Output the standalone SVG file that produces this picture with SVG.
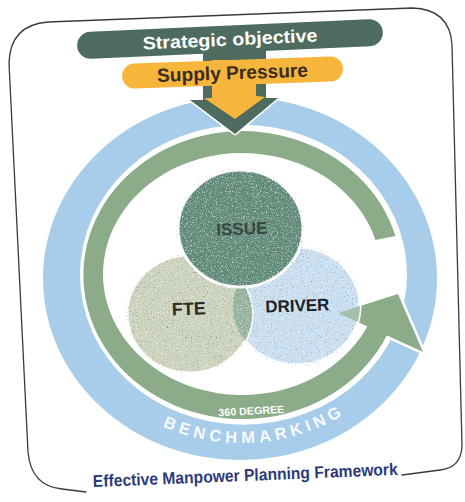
<svg xmlns="http://www.w3.org/2000/svg" width="465" height="502" viewBox="0 0 465 502">
  <defs>
    <style>
      .frame { fill: none; stroke: #3a3a3a; stroke-width: 1.3; stroke-linecap: round; }
      .blue-ring { fill: #a8cdeb; }
      .green-ring { fill: #8cac89; }
      .cut { stroke: #ffffff; stroke-linejoin: round; }
      .label { font-family: "Liberation Sans", Arial, sans-serif; font-weight: bold; text-anchor: middle; }
      .circle-label { font-size: 17px; }
      .printed { filter: url(#grain); }
    </style>
    <!-- printed-paper speckle for the circle fills -->
    <filter id="grain" x="-5%" y="-5%" width="110%" height="110%" color-interpolation-filters="sRGB">
      <feTurbulence type="fractalNoise" baseFrequency="0.8" numOctaves="2" seed="7" result="n"/>
      <feColorMatrix in="n" type="matrix" values="0 0 0 0 1  0 0 0 0 1  0 0 0 0 1  2.4 0 0 0 -1.25" result="light"/>
      <feColorMatrix in="n" type="matrix" values="0 0 0 0 0.25  0 0 0 0 0.33  0 0 0 0 0.27  0 -2.0 0 0 0.75" result="dark"/>
      <feComposite in="light" in2="SourceAlpha" operator="in" result="lightIn"/>
      <feComposite in="dark" in2="SourceAlpha" operator="in" result="darkIn"/>
      <feMerge>
        <feMergeNode in="SourceGraphic"/>
        <feMergeNode in="lightIn"/>
        <feMergeNode in="darkIn"/>
      </feMerge>
    </filter>
    <clipPath id="fte-clip">
      <ellipse cx="189.5" cy="314" rx="62.5" ry="59"/>
    </clipPath>
    <clipPath id="driver-clip">
      <ellipse cx="296.5" cy="306" rx="63.5" ry="59"/>
    </clipPath>
    <path id="bench-arc" d="M 120,400.3 A 182 166.5 0 0 0 384,380.5"/>
  </defs>

  <rect width="465" height="502" fill="#ffffff"/>

  <!-- page frame, open at the bottom for the caption -->
  <g id="frame">
    <path class="frame" d="M 402,475 L 440,470 Q 461,468 462,446 L 452,45 Q 450,9 412,8 L 48,22 Q 10,25 9,63 L 28,452 Q 31,486 62,489 L 86,492"/>
    <text class="label" x="0" y="0" font-size="17" fill="#2c3b7a" textLength="305" lengthAdjust="spacingAndGlyphs" transform="translate(245.5,481) rotate(-2.3)">Effective Manpower Planning Framework</text>
  </g>

  <!-- outer benchmarking ring -->
  <g id="benchmarking">
    <path class="blue-ring" fill-rule="evenodd" d="M 43,278.5 a 197,181.5 0 1,0 394,0 a 197,181.5 0 1,0 -394,0 Z M 80,274.75 a 163.5,150 0 1,0 327,0 a 163.5,150 0 1,0 -327,0 Z"/>
    <text class="label" font-size="16.5" fill="#ffffff" fill-opacity="0.92" letter-spacing="4.5">
      <textPath href="#bench-arc" startOffset="50%">BENCHMARKING</textPath>
    </text>
  </g>

  <!-- 360 degree circular arrow -->
  <g id="cycle-arrow">
    <polygon class="cut" points="338,313 398,294 423,352" fill="#ffffff" stroke-width="5"/>
    <path class="green-ring" d="M 390.7,327 A 159 144 0 1 1 395.4,236 L 375.4,240 A 139 121 0 1 0 373.6,313 Z"/>
    <polygon class="green-ring" points="338,313 398,294 423,352"/>
    <text class="label" x="0" y="0" font-size="10.5" fill="#ffffff" textLength="66" lengthAdjust="spacingAndGlyphs" transform="translate(251.5,414.5) rotate(-3)">360 DEGREE</text>
  </g>

  <!-- the three overlapping circles -->
  <g id="driver">
    <ellipse class="cut printed" cx="296.5" cy="306" rx="63.5" ry="59" fill="#c8def1" stroke-width="3"/>
    <polygon points="338,313 398,294 423,352" fill="#a3bfae" clip-path="url(#driver-clip)"/>
    <text class="label circle-label" x="0" y="0" fill="#1e1f28" transform="translate(297.5,311.5) rotate(-2)">DRIVER</text>
  </g>
  <g id="fte">
    <ellipse class="cut printed" cx="189.5" cy="314" rx="62.5" ry="59" fill="#cbd2bb" stroke-width="3"/>
    <g clip-path="url(#fte-clip)">
      <ellipse class="printed" cx="296.5" cy="306" rx="63.5" ry="59" fill="#93b39d"/>
    </g>
    <text class="label" x="0" y="0" font-size="18" fill="#2b2c2a" transform="translate(189,315) rotate(-2)">FTE</text>
  </g>
  <g id="issue">
    <ellipse class="cut printed" cx="240.5" cy="228.5" rx="62.5" ry="58.5" fill="#618b79" stroke-width="3"/>
    <text class="label circle-label" x="0" y="0" fill="#3a4640" transform="translate(242,234.5) rotate(-2)">ISSUE</text>
  </g>

  <!-- downward arrow from the objective into the cycle -->
  <g id="connectors">
    <path d="M 203,42 L 266,42 L 266,98 L 278,98 L 235,134 L 190,100 L 203,100 Z" fill="#4d6b5e" class="cut" stroke-width="3" paint-order="stroke"/>
    <path d="M 212,60 L 256,60 L 256,96 L 265,97 L 235,119 L 204,98 L 212,98 Z" fill="#f6b63b"/>
  </g>

  <g id="strategic-objective" transform="translate(230,39) rotate(-2.6)">
    <rect x="-153" y="-13.5" width="306" height="27" rx="13.5" fill="#4d6b5e"/>
    <text class="label" x="0" y="6.5" font-size="18" fill="#ffffff" textLength="175" lengthAdjust="spacingAndGlyphs">Strategic objective</text>
  </g>

  <g id="supply-pressure" transform="translate(232.5,72.5) rotate(-2.1)">
    <rect x="-110.5" y="-12.5" width="221" height="25" rx="12.5" fill="#f6b63b"/>
    <text class="label" x="0" y="6.8" font-size="19" fill="#3a2b1f" textLength="151" lengthAdjust="spacingAndGlyphs">Supply Pressure</text>
  </g>
</svg>
